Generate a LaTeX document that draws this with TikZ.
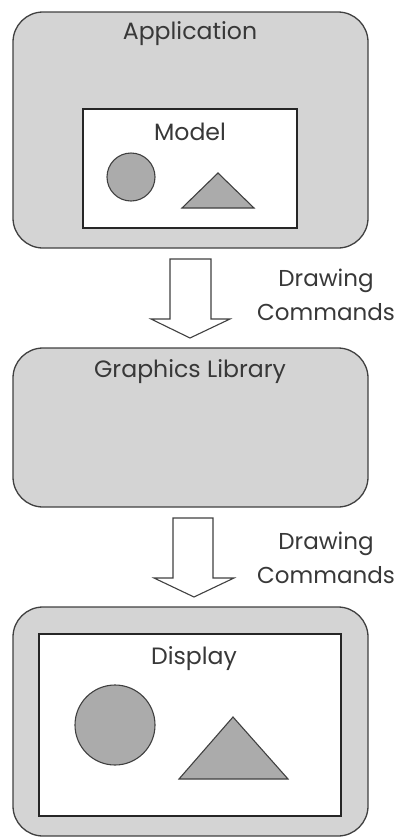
\documentclass[tikz,border=0pt]{standalone}
\usepackage{fontspec}
\setmainfont{Poppins}
\begin{document}
\begin{tikzpicture}[x=1pt,y=-1pt,
  outerbox/.style={draw=black!75,line width=1.3pt,fill=black!17,rounded corners=30pt},
  innerbox/.style={draw=black!85,line width=1.3pt,fill=white},
  shapefill/.style={draw=black!75,line width=1.1pt,fill=black!33},
  blockarrow/.style={draw=black!75,line width=1.1pt,fill=white},
  lbl/.style={text=black!78,font=\fontsize{23.6}{26}\selectfont,inner sep=0pt},
  side/.style={text=black!78,font=\fontsize{23}{34}\selectfont,inner sep=0pt,align=center}]
\useasboundingbox (0,0) rectangle (397,839);
% Application
\draw[outerbox] (13,12) rectangle (368,248);
\node[lbl] (app) at (190,34) {Application};
\draw[innerbox] (83,109) rectangle (297,228);
\node[lbl] (model) at (190,132) {Model};
\draw[shapefill] (131,177) circle (24);
\draw[shapefill] (182,208) -- (218,173) -- (254,208) -- cycle;
% arrow 1
\draw[blockarrow] (170,259) -- (211,259) -- (211,319) -- (230,319) -- (190,338) -- (151,319) -- (170,319) -- cycle;
\node[side] (dc1) at (326,295) {Drawing\\Commands};
% Graphics library
\draw[outerbox] (13,348) rectangle (368,507);
\node[lbl] (gl) at (190,372) {Graphics Library};
% arrow 2
\draw[blockarrow] (173,518) -- (213,518) -- (213,578) -- (234,578) -- (194,597) -- (154,578) -- (173,578) -- cycle;
\node[side] (dc2) at (326,558) {Drawing\\Commands};
% Display
\draw[outerbox] (13,607) rectangle (368,836);
\draw[innerbox] (39,634) rectangle (341,816);
\node[lbl] (disp) at (194,659) {Display};
\draw[shapefill] (115,725) circle (40);
\draw[shapefill] (179,779) -- (233,717) -- (288,779) -- cycle;
\end{tikzpicture}
\end{document}
